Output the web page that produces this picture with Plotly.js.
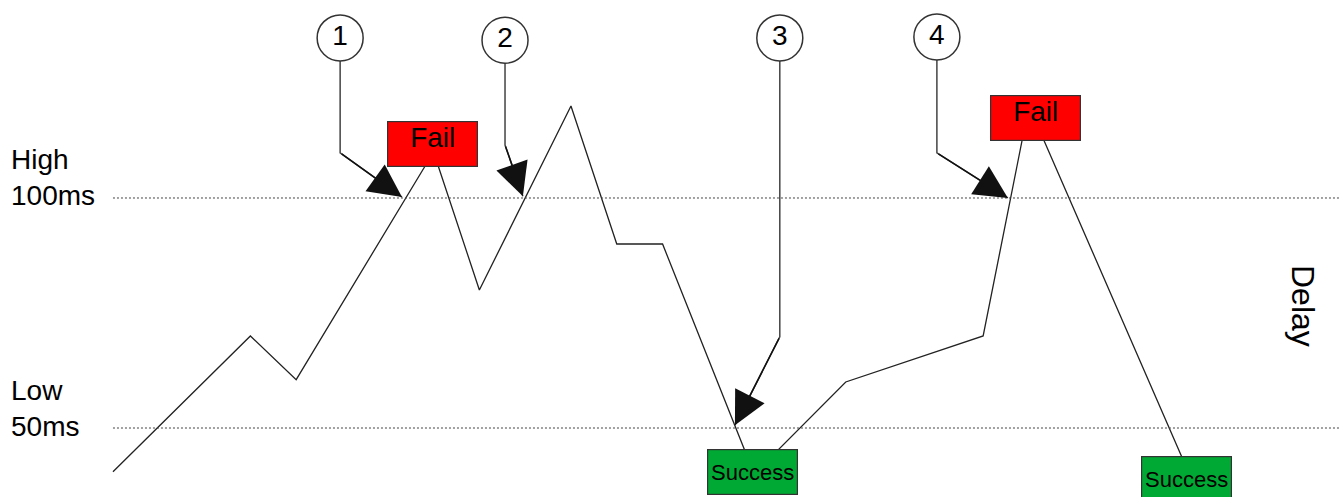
<!DOCTYPE html>
<html>
<head>
<meta charset="utf-8">
<script src="https://cdn.plot.ly/plotly-3.0.1.min.js"></script>
<style>
    html, body { margin: 0; padding: 0; background: #fff; }
    #chart { width: 1339px; height: 497px; }
</style>
</head>
<body>
<div id="chart"></div>
<script>
// Delay over time (time steps, delay in ms)
const timeSteps = [0, 3, 4, 7, 8, 10, 11, 12, 14, 16, 19, 20, 23.5];
const delayMs = [40.5, 70, 60.5, 110, 80, 120, 90, 90, 40, 60, 70, 120, 40];

// Thresholds
const thresholdMs = [100, 50];
const thresholdLabels = ['High<br>100ms', 'Low<br>50ms'];

// Result boxes
const boxText = ['Fail', 'Fail', 'Success', 'Success'];
const boxX = [6.98, 20.15, 13.97, 23.45];
const boxY = [111.7, 117.4, 40.5, 38.9];

// Numbered callouts
const calloutNums = ['1', '2', '3', '4'];
const calloutX = [4.96, 8.56, 14.56, 17.99];
const calloutY = [134.8, 134.3, 134.8, 135.0];
const bendY = [109.8, 111.5, 69.8, 109.8];
const tipX = [6.31, 8.95, 13.58, 19.54];
const tipY = [100.2, 100.4, 50.6, 100];

const X_RANGE = [-2.467, 26.77];
const Y_RANGE = [35.0, 143.04];
const FONT = 'Liberation Sans, Arial, sans-serif';

function boxStyle(label) {
    if (label === 'Fail') {
        return {bg: '#ff0000', size: 28, valign: 'top'};
    } else {
        return {bg: '#00a933', size: 22, valign: 'middle'};
    }
}

function drawChart() {
    let data = [];

    // connectors from callouts (vertical then diagonal)
    for (let i = 0; i < calloutNums.length; i++) {
        data.push({
            x: [calloutX[i], calloutX[i], tipX[i]],
            y: [calloutY[i], bendY[i], tipY[i]],
            mode: 'lines',
            line: {color: '#444', width: 1.5},
            hoverinfo: 'skip'
        });
    }

    // delay line
    data.push({
        x: timeSteps,
        y: delayMs,
        mode: 'lines',
        line: {color: '#222', width: 1.3},
        hoverinfo: 'skip'
    });

    // callout circles
    data.push({
        x: calloutX,
        y: calloutY,
        text: calloutNums,
        mode: 'markers+text',
        textposition: 'middle center',
        textfont: {family: FONT, size: 28, color: '#000'},
        marker: {size: 46, color: '#fff', line: {color: '#333', width: 1.5}},
        hoverinfo: 'skip'
    });

    let shapes = thresholdMs.map(function(v) {
        return {
            type: 'line', xref: 'x', yref: 'y',
            x0: 0, x1: X_RANGE[1], y0: v, y1: v,
            line: {color: '#444', width: 1, dash: '2px,2px'}
        };
    });

    let annotations = [];

    thresholdMs.forEach(function(v, i) {
        annotations.push({
            xref: 'paper', yref: 'y', x: 0.007, y: v,
            xanchor: 'left', yanchor: 'middle', yshift: 20,
            align: 'left', showarrow: false,
            text: thresholdLabels[i],
            font: {family: FONT, size: 28, color: '#000'}
        });
    });

    // arrowheads
    for (let i = 0; i < calloutNums.length; i++) {
        annotations.push({
            xref: 'x', yref: 'y', axref: 'x', ayref: 'y',
            x: tipX[i], y: tipY[i], ax: calloutX[i], ay: bendY[i],
            text: '', showarrow: true,
            arrowhead: 2, arrowsize: 4.4, arrowwidth: 1.5,
            arrowcolor: '#111', standoff: 0
        });
    }

    // result boxes
    for (let i = 0; i < boxText.length; i++) {
        let st = boxStyle(boxText[i]);
        annotations.push({
            xref: 'x', yref: 'y', x: boxX[i], y: boxY[i],
            xanchor: 'center', yanchor: 'middle',
            text: boxText[i], showarrow: false,
            width: 89, height: 44, borderpad: 0, valign: st.valign,
            bgcolor: st.bg, bordercolor: '#333', borderwidth: 1.2,
            font: {family: FONT, size: st.size, color: '#000'}
        });
    }

    annotations.push({
        xref: 'paper', yref: 'paper', x: 1303 / 1339, y: 1 - 306 / 497,
        xanchor: 'center', yanchor: 'middle',
        text: 'Delay', textangle: 90, showarrow: false,
        font: {family: FONT, size: 32, color: '#000'}
    });

    let layout = {
        width: 1339,
        height: 497,
        margin: {l: 0, r: 0, t: 0, b: 0},
        paper_bgcolor: '#fff',
        plot_bgcolor: '#fff',
        showlegend: false,
        xaxis: {range: X_RANGE, visible: false, fixedrange: true},
        yaxis: {range: Y_RANGE, visible: false, fixedrange: true},
        shapes: shapes,
        annotations: annotations
    };

    Plotly.newPlot('chart', data, layout, {displayModeBar: false, staticPlot: true});
}

drawChart();
</script>
</body>
</html>
